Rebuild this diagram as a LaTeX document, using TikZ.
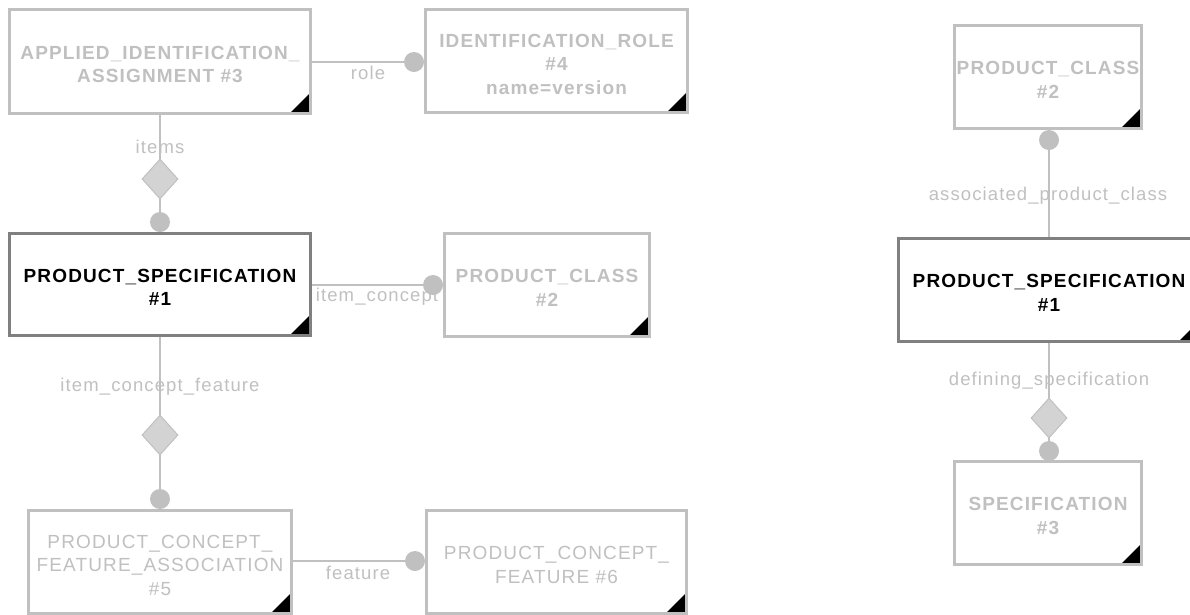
\documentclass[tikz,border=0pt]{standalone}
\usepackage{fontspec}
\setmainfont{Liberation Sans}
\newfontfamily\entfont[LetterSpace=6]{Liberation Sans}
\newfontfamily\lblfont[LetterSpace=6]{Liberation Sans}
\usetikzlibrary{shapes.geometric}
\definecolor{lg}{HTML}{C0C0C0}
\definecolor{dg}{HTML}{808080}
\definecolor{df}{HTML}{D3D3D3}
\newcommand\enttxt[1]{\raisebox{-5pt}[\height][\depth]{\begin{tabular}{@{}c@{}}#1\end{tabular}}}
\tikzset{
  ent/.style={draw=lg, line width=3pt, fill=white, inner sep=0pt,
    text=lg, font=\entfont\bfseries\fontsize{19}{23.5}\selectfont,
    path picture={\fill[black] (path picture bounding box.south east) -- ++(-21pt,0) -- ++(21pt,21pt) -- cycle;}},
  entreg/.style={ent, font=\entfont\fontsize{19}{23.5}\selectfont},
  focus/.style={ent, draw=dg, text=black},
  lbl/.style={text=lg, font=\lblfont\fontsize{18.5}{21}\selectfont, inner sep=0pt},
  conn/.style={draw=lg, line width=1.5pt},
  dot/.style={circle, fill=lg, minimum size=20pt, inner sep=0pt},
  dia/.style={diamond, draw=lg, fill=df, line width=1pt, minimum width=36pt, minimum height=40pt, inner sep=0pt}
}
\begin{document}
\begin{tikzpicture}[x=1pt,y=-1pt]
\useasboundingbox (0,0) rectangle (1190,614);
% left diagram
\node[ent, minimum width=301pt, minimum height=104pt] (aia) at (160,61.5) {\enttxt{APPLIED\_IDENTIFICATION\_\\ASSIGNMENT \#3}};
\node[ent, minimum width=262pt, minimum height=103pt] (idr) at (556.5,61) {\enttxt{IDENTIFICATION\_ROLE\\\#4\\name=version}};
\node[focus, minimum width=301pt, minimum height=102pt] (ps) at (160,284.5) {\enttxt{PRODUCT\_SPECIFICATION\\\#1}};
\node[ent, minimum width=205pt, minimum height=103pt] (pc) at (547,285) {\enttxt{PRODUCT\_CLASS\\\#2}};
\node[entreg, minimum width=263pt, minimum height=103pt] (pcfa) at (160,562) {\enttxt{PRODUCT\_CONCEPT\_\\FEATURE\_ASSOCIATION\\\#5}};
\node[entreg, minimum width=260pt, minimum height=103pt] (pcf) at (556.5,562) {\enttxt{PRODUCT\_CONCEPT\_\\FEATURE \#6}};
% right diagram
\node[ent, minimum width=187pt, minimum height=103pt] (pc2) at (1048,77) {\enttxt{PRODUCT\_CLASS\\\#2}};
\node[focus, minimum width=301pt, minimum height=103pt] (ps2) at (1049,290) {\enttxt{PRODUCT\_SPECIFICATION\\\#1}};
\node[ent, minimum width=187pt, minimum height=103pt] (spec) at (1048,513) {\enttxt{SPECIFICATION\\\#3}};
% connectors
\draw[conn] (aia.east |- 0,62) -- (idr.west |- 0,62);
\node[dot] (d1) at (414,62) {};
\node[lbl] (l1) at (368,73) {role};
\draw[conn] (aia.south) -- (ps.north);
\node[dia] (m1) at (160,179) {};
\node[dot] (d2) at (160,222) {};
\node[lbl] (l2) at (160,147) {items};
\draw[conn] (ps.east |- 0,285) -- (pc.west |- 0,285);
\node[dot] (d3) at (433,285) {};
\node[lbl] (l3) at (377,297) {item\_concept};
\draw[conn] (ps.south) -- (pcfa.north);
\node[dia] (m2) at (160,435) {};
\node[dot] (d4) at (160,499) {};
\node[lbl] (l4) at (160,387) {item\_concept\_feature};
\draw[conn] (pcfa.east |- 0,561) -- (pcf.west |- 0,561);
\node[dot] (d5) at (415,561) {};
\node[lbl] (l5) at (358,573) {feature};
\draw[conn] (pc2.south -| 1049,0) -- (ps2.north);
\node[dot] (d6) at (1049,140) {};
\node[lbl] (l6) at (1048,196) {associated\_product\_class};
\draw[conn] (ps2.south) -- (spec.north -| 1049,0);
\node[dia] (m3) at (1049,418) {};
\node[dot] (d7) at (1049,451) {};
\node[lbl] (l7) at (1049,381) {defining\_specification};
\end{tikzpicture}
\end{document}
